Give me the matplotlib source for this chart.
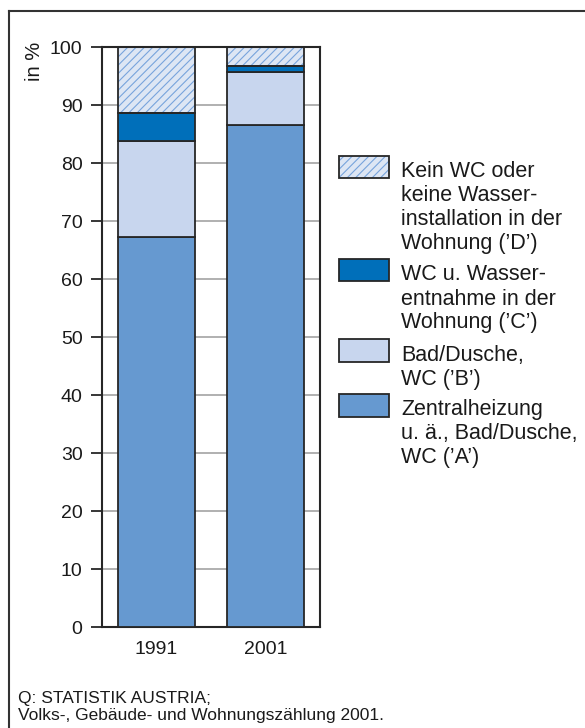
import matplotlib
matplotlib.use("Agg")
import matplotlib.pyplot as plt
from matplotlib.patches import Rectangle
from matplotlib.lines import Line2D

years = ["1991", "2001"]
cat_a = [67.2, 86.6]   # Zentralheizung u. ä., Bad/Dusche, WC ('A')
cat_b = [16.6, 9.1]    # Bad/Dusche, WC ('B')
cat_c = [4.8, 1.1]     # WC u. Wasserentnahme in der Wohnung ('C')
cat_d = [11.4, 3.2]    # Kein WC oder keine Wasserinstallation ('D')
yticks = [0, 10, 20, 30, 40, 50, 60, 70, 80, 90, 100]

labels = [
    ["Kein WC oder", "keine Wasser-", "installation in der", "Wohnung (\u2019D\u2019)"],
    ["WC u. Wasser-", "entnahme in der", "Wohnung (\u2019C\u2019)"],
    ["Bad/Dusche,", "WC (\u2019B\u2019)"],
    ["Zentralheizung", "u. \u00e4., Bad/Dusche,", "WC (\u2019A\u2019)"],
]
source_lines = ["Q: STATISTIK AUSTRIA;",
                "Volks-, Geb\u00e4ude- und Wohnungsz\u00e4hlung 2001."]

col_a = "#6699d0"
col_b = "#c8d6ee"
col_c = "#006fba"
col_d = "#dde6f4"
hatch_col = "#78a4dc"
edge = "#262626"
txt = "#1a1a1a"

plt.rcParams['font.family'] = ['Liberation Sans', 'DejaVu Sans']
plt.rcParams['hatch.linewidth'] = 0.8

W, H = 585, 728
fig = plt.figure(figsize=(W / 100, H / 100), dpi=100)

def fx(x):
    return x / W

def fy(y):
    return 1 - y / H

ax = fig.add_axes([fx(102), fy(627), fx(320) - fx(102), fy(47.3) - fy(627)])

x = list(range(len(years)))
w = 0.7
bottom = [0.0, 0.0]
for vals, col, hatch in [(cat_a, col_a, None), (cat_b, col_b, None),
                         (cat_c, col_c, None), (cat_d, col_d, "////")]:
    if hatch:
        ax.bar(x, vals, w, bottom=bottom, color=col, edgecolor=hatch_col,
               hatch=hatch, linewidth=0, zorder=2)
        ax.bar(x, vals, w, bottom=bottom, fill=False, edgecolor=edge,
               linewidth=1.3, zorder=3)
    else:
        ax.bar(x, vals, w, bottom=bottom, color=col, edgecolor=edge,
               linewidth=1.3, zorder=3)
    bottom = [b + v for b, v in zip(bottom, vals)]

ax.set_xlim(-0.5, 1.5)
ax.set_ylim(0, 100)
ax.set_yticks(yticks)
ax.set_xticks(x)
ax.set_xticklabels(years)
ax.yaxis.grid(True, color="#aaaaaa", linewidth=1.3, zorder=0)
ax.set_axisbelow(True)
ax.tick_params(axis='y', length=8, width=1.3, color=edge, pad=6, labelsize=14,
               labelcolor=txt)
ax.tick_params(axis='x', length=0, pad=10, labelsize=14, labelcolor=txt)
for s in ax.spines.values():
    s.set_color(edge)
    s.set_linewidth(1.5)

fig.text(fx(34), fy(42), "in %", rotation=90, ha='center', va='top',
         fontsize=14.5, color=txt)

# legend
patch_tops = [155.5, 259, 339, 394]
legend_cols = [(col_d, "////"), (col_c, None), (col_b, None), (col_a, None)]
ph = 22.5
for top, (col, hatch), lines in zip(patch_tops, legend_cols, labels):
    rect = dict(xy=(fx(339), fy(top + ph)), width=fx(389) - fx(339),
                height=fy(top) - fy(top + ph), transform=fig.transFigure)
    if hatch:
        fig.add_artist(Rectangle(facecolor=col, edgecolor=hatch_col, hatch=hatch,
                                 linewidth=0, **rect))
        fig.add_artist(Rectangle(fill=False, edgecolor=edge, linewidth=1.3, **rect))
    else:
        fig.add_artist(Rectangle(facecolor=col, edgecolor=edge, linewidth=1.3, **rect))
    for i, line in enumerate(lines):
        fig.text(fx(401), fy(top + 21.5 + 24 * i), line, ha='left', va='baseline',
                 fontsize=15.5, color=txt)

# source
for i, line in enumerate(source_lines):
    fig.text(fx(17.5), fy(703.3 + 16.5 * i), line, ha='left', va='baseline',
             fontsize=12.5, color=txt)

# frame
fig.add_artist(Line2D([fx(9), fx(9)], [0, fy(11)], color="#333333", linewidth=1.5,
                      transform=fig.transFigure))
fig.add_artist(Line2D([fx(9), 1], [fy(11), fy(11)], color="#333333", linewidth=1.5,
                      transform=fig.transFigure))

fig.savefig("out.png", dpi=100)
